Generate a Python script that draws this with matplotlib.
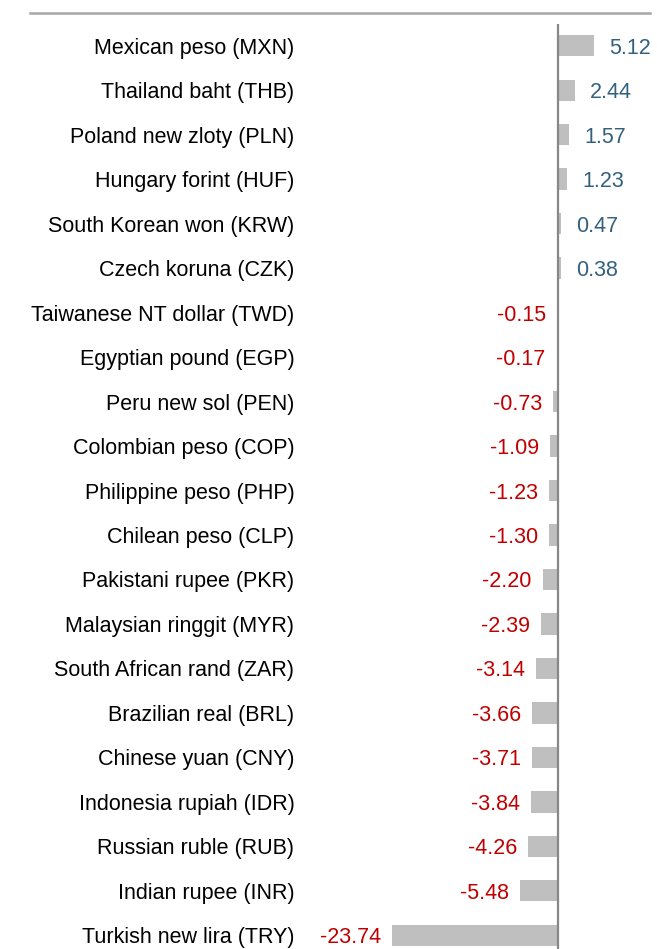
import matplotlib.pyplot as plt
from matplotlib.lines import Line2D

plt.rcParams['font.family'] = ['Liberation Sans', 'DejaVu Sans']

# currency performance, % (top to bottom as shown)
currencies = [
    'Mexican peso (MXN)', 'Thailand baht (THB)', 'Poland new zloty (PLN)',
    'Hungary forint (HUF)', 'South Korean won (KRW)', 'Czech koruna (CZK)',
    'Taiwanese NT dollar (TWD)', 'Egyptian pound (EGP)', 'Peru new sol (PEN)',
    'Colombian peso (COP)', 'Philippine peso (PHP)', 'Chilean peso (CLP)',
    'Pakistani rupee (PKR)', 'Malaysian ringgit (MYR)', 'South African rand (ZAR)',
    'Brazilian real (BRL)', 'Chinese yuan (CNY)', 'Indonesia rupiah (IDR)',
    'Russian ruble (RUB)', 'Indian rupee (INR)', 'Turkish new lira (TRY)',
]
values = [5.12, 2.44, 1.57, 1.23, 0.47, 0.38, -0.15, -0.17, -0.73, -1.09,
          -1.23, -1.30, -2.20, -2.39, -3.14, -3.66, -3.71, -3.84, -4.26,
          -5.48, -23.74]

W, H = 657, 949
fig = plt.figure(figsize=(W / 100, H / 100), dpi=100)

# axes: left edge at 300px, zero line at 558px, 7 px per unit
px_per_unit = 7.0
x0 = 558
ax_left, ax_right = 300, W
ax_top, ax_bottom = 23.5, 957.5
ax = fig.add_axes([ax_left / W, 1 - ax_bottom / H,
                   (ax_right - ax_left) / W, (ax_bottom - ax_top) / H])
ax.set_xlim((ax_left - x0) / px_per_unit, (ax_right - x0) / px_per_unit)

n = len(values)
ypos = list(range(n))
ax.barh(ypos, values, height=0.48, color='#bfbfbf', zorder=2)
ax.set_ylim(n - 0.5, -0.5)

ax.axvline(0, color='#878787', lw=1.6, zorder=3)

fs = 15.5
pos_col = '#33607f'
neg_col = '#c00000'
for y, v in zip(ypos, values):
    if v >= 0:
        ax.annotate(f'{v:.2f}', (v, y), xytext=(11, 0), textcoords='offset points',
                    ha='left', va='center_baseline', fontsize=fs, color=pos_col)
    else:
        ax.annotate(f'{v:.2f}', (v, y), xytext=(-8, 0), textcoords='offset points',
                    ha='right', va='center_baseline', fontsize=fs, color=neg_col)

ax.set_yticks(ypos)
ax.set_yticklabels(currencies, fontsize=fs, va='center_baseline')
ax.tick_params(axis='y', length=0, pad=4)
ax.set_xticks([])
for s in ax.spines.values():
    s.set_visible(False)

# top border line
fig.add_artist(Line2D([30 / W, 650 / W], [1 - 12.5 / H, 1 - 12.5 / H],
                      color='#a6a6a6', lw=1.8))

fig.savefig('out.png', dpi=100)
